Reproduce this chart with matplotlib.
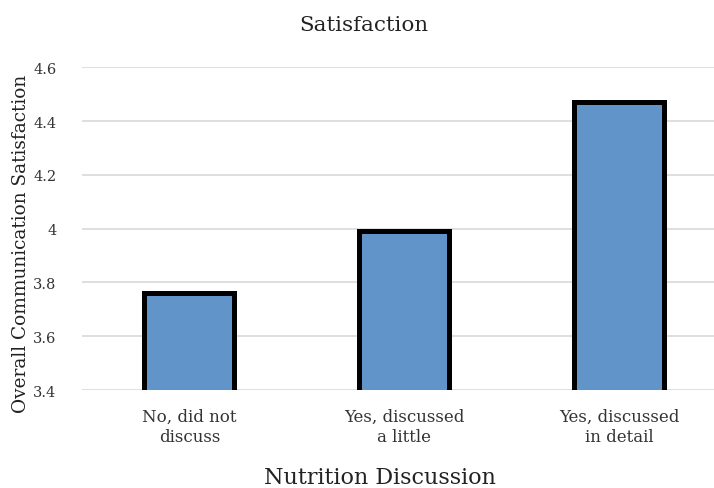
import matplotlib
matplotlib.use("Agg")
import matplotlib.pyplot as plt
import numpy as np

categories = ["No, did not\ndiscuss", "Yes, discussed\na little", "Yes, discussed\nin detail"]
satisfaction = [3.76, 3.99, 4.47]
y_ticks = [3.4, 3.6, 3.8, 4.0, 4.2, 4.4, 4.6]
y_tick_labels = ["3.4", "3.6", "3.8", "4", "4.2", "4.4", "4.6"]

plt.rcParams["font.family"] = ["DejaVu Serif"]

fig = plt.figure(figsize=(7.14, 4.89), dpi=100)
ax = fig.add_axes([0.1148, 0.2004, 0.8852, 0.6599])

x = np.arange(len(categories))
ax.bar(x, satisfaction, width=0.42, color="#6195c9", edgecolor="black",
       linewidth=3.6, zorder=3)

ax.set_ylim(3.4, 4.6)
ax.set_xlim(-0.5, 2.442)
ax.set_yticks(y_ticks)
ax.set_yticklabels(y_tick_labels, fontsize=10.5, color="#333333")
ax.set_xticks(x)
ax.set_xticklabels(categories, fontsize=12, color="#333333", linespacing=1.25)
ax.tick_params(axis="both", length=0)
ax.tick_params(axis="y", pad=18.5)
ax.tick_params(axis="x", pad=13)
ax.yaxis.grid(True, color="#d9d9d9", linewidth=1.2, zorder=0)
for s in ax.spines.values():
    s.set_visible(False)

fig.text(0.51, 0.948, "Satisfaction", ha="center", va="center", fontsize=15.4, color="#222222")
fig.text(0.532, 0.022, "Nutrition Discussion", ha="center", va="center", fontsize=16, color="#222222")
fig.text(0.030, 0.501, "Overall Communication Satisfaction", ha="center", va="center",
         rotation=90, fontsize=13.3, color="#222222")

fig.savefig("out.png", dpi=100)
